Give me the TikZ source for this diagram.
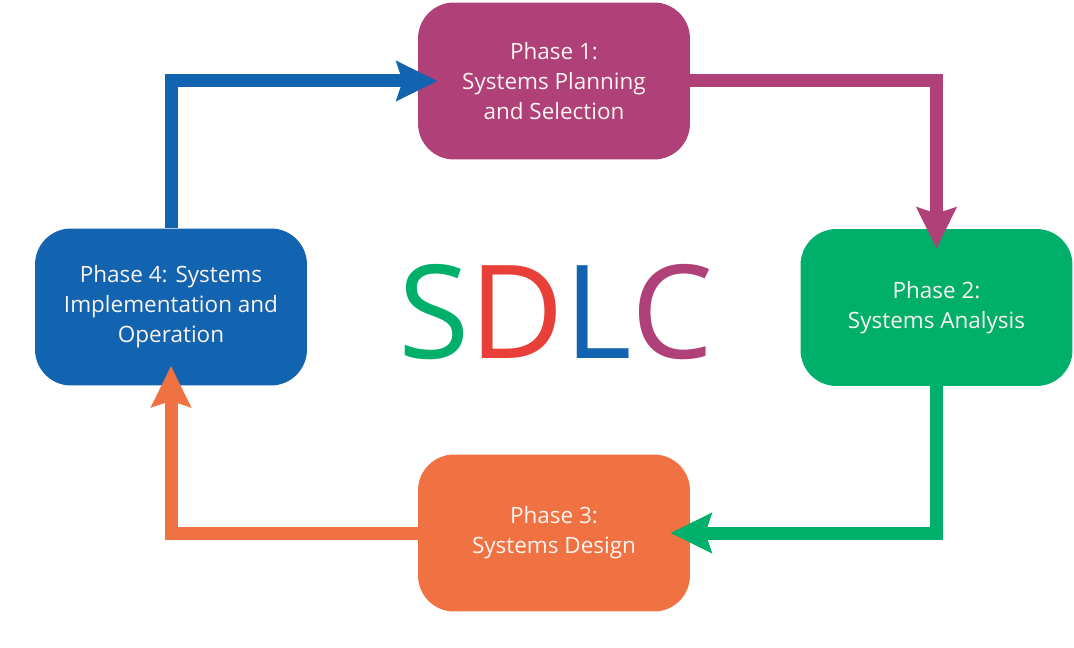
\documentclass[tikz,border=0pt]{standalone}
\usepackage{fontspec}
\setmainfont{Open Sans}
\usetikzlibrary{arrows.meta,positioning}
\definecolor{phaseOne}{RGB}{176,64,120}
\definecolor{phaseTwo}{RGB}{0,176,106}
\definecolor{phaseThree}{RGB}{240,114,66}
\definecolor{phaseFour}{RGB}{18,100,176}
\definecolor{sdlcRed}{RGB}{232,64,56}
\definecolor{boxText}{RGB}{252,244,240}
\begin{document}
\begin{tikzpicture}[x=0.02cm,y=-0.02cm,
    phase/.style={rounded corners=0.72cm, minimum width=5.44cm, minimum height=3.14cm,
      text=boxText, align=center, inner sep=0pt, font=\fontsize{12.8}{17}\selectfont},
    flow/.style={line width=0.26cm, line join=miter, shorten >=-0.4cm,
      -{Stealth[length=0.82cm,width=0.78cm,inset=0.12cm]}}]
    \useasboundingbox (0,0) rectangle (1074,648);
    % Phases
    \node[phase, fill=phaseOne] (p1) at (554,81) {Phase 1:\\Systems Planning\\and Selection};
    \node[phase, fill=phaseTwo] (p2) at (936.5,307.5) {Phase 2:\\Systems Analysis};
    \node[phase, fill=phaseThree] (p3) at (554,533) {Phase 3:\\Systems Design};
    \node[phase, fill=phaseFour] (p4) at (171,307) {Phase 4: Systems\\Implementation and\\Operation};
    % Title
    \node[font=\fontsize{74}{80}\selectfont] (sdlc) at (556,312)
      {\textcolor{phaseTwo}{S}\textcolor{sdlcRed}{D}\textcolor{phaseFour}{L}\textcolor{phaseOne}{C}};
    % Cycle
    \draw[flow, phaseFour] (p4.north) |- (p1.west);
    \draw[flow, phaseOne] (p1.east) -| (p2.north);
    \draw[flow, phaseTwo] (p2.south) |- (p3.east);
    \draw[flow, phaseThree] (p3.west) -| (p4.south);
\end{tikzpicture}
\end{document}
